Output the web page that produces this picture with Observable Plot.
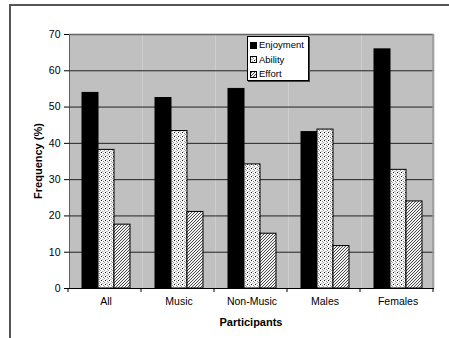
<!DOCTYPE html>
<html>
<head>
<meta charset="utf-8">
<script src="https://cdn.jsdelivr.net/npm/d3@7"></script>
<script src="https://cdn.jsdelivr.net/npm/@observablehq/plot@0.6"></script>
<style>
  body { margin: 0; background: #fff; }
  #wrap { position: relative; width: 449px; height: 338px; overflow: hidden; font-family: "Liberation Sans", Arial, sans-serif; }
  #border { position: absolute; left: 9px; top: 4px; width: 460px; height: 400px; border-left: 2px solid #555; border-top: 2px solid #555; box-sizing: border-box; }
  #chart { position: absolute; left: 0; top: 0; }
  .lbl { position: absolute; font-weight: bold; font-size: 11px; color: #000; white-space: nowrap; }
  #ylab { left: 38px; top: 161px; transform: translate(-50%, -50%) rotate(-90deg); }
  #xlab { left: 251px; top: 322px; transform: translate(-50%, -50%); }
  #legend { position: absolute; left: 247px; top: 36px; width: 62px; height: 45px; background: #fff; border: 1px solid #000; box-shadow: 1px 1px 0 #444; box-sizing: border-box; font-size: 9.5px; }
  #legend .item { position: absolute; left: 2px; height: 12px; line-height: 12px; display: flex; align-items: center; }
  #legend svg { margin-right: 2px; }
</style>
</head>
<body>
<svg width="0" height="0" style="position:absolute">
  <defs>
    <pattern id="dots" width="4" height="4" patternUnits="userSpaceOnUse">
      <rect width="4" height="4" fill="#fafafa"/>
      <rect x="0" y="0" width="1" height="1" fill="#111"/>
      <rect x="2" y="1" width="1" height="1" fill="#888"/>
      <rect x="1" y="3" width="1" height="1" fill="#bbb"/>
      <rect x="3" y="2" width="1" height="1" fill="#999"/>
      <rect x="2" y="3" width="1" height="1" fill="#ccc"/>
    </pattern>
    <pattern id="hatch" width="3" height="3" patternUnits="userSpaceOnUse">
      <rect width="3" height="3" fill="#f2f2f2"/>
      <path d="M-1,1 L1,-1 M0,3 L3,0 M2,4 L4,2" stroke="#333" stroke-width="0.9"/>
    </pattern>
  </defs>
</svg>
<div id="wrap">
  <div id="border"></div>
  <div id="chart"></div>
  <div class="lbl" id="ylab">Frequency (%)</div>
  <div class="lbl" id="xlab">Participants</div>
  <div id="legend"></div>
</div>
<script>
const categories = ["All", "Music", "Non-Music", "Males", "Females"];
const series = ["Enjoyment", "Ability", "Effort"];
const enjoyment = [53.9, 52.5, 55.0, 43.1, 65.9];
const ability = [38.2, 43.4, 34.2, 43.8, 32.7];
const effort = [17.6, 21.1, 15.1, 11.7, 24.0];
const yTicks = [0, 10, 20, 30, 40, 50, 60, 70];
const fills = ["#000", "url(#dots)", "url(#hatch)"];

const values = [enjoyment, ability, effort];
const table = [];
categories.forEach((c, i) => series.forEach((s, j) => table.push({category: c, series: s, value: values[j][i]})));

const chart = Plot.plot({
  width: 449,
  height: 338,
  marginLeft: 68,
  marginRight: 14,
  marginTop: 34,
  marginBottom: 50,
  style: {fontFamily: "'Liberation Sans', Arial, sans-serif", fontSize: "10.5px", background: "transparent", color: "#000"},
  facet: {data: table, x: "category"},
  fx: {domain: categories, padding: 0, axis: "bottom", label: null, tickSize: 0, tickPadding: 9},
  x: {domain: series, paddingInner: 0, paddingOuter: 0.78, axis: null},
  y: {domain: [0, 70], ticks: yTicks, label: null, line: true, tickSize: 5, tickPadding: 4},
  color: {domain: series, range: fills},
  marks: [
    Plot.frame({fill: "#c0c0c0", stroke: "none"}),
    Plot.ruleY(yTicks.slice(1, -1), {stroke: "#222", strokeWidth: 1}),
    Plot.ruleY([70], {stroke: "#666", strokeWidth: 1.5}),
    Plot.barY(table, {x: "series", y: "value", fill: "series", stroke: "#000", strokeWidth: 1}),
    Plot.ruleY([0], {stroke: "#000", strokeWidth: 1})
  ]
});
document.getElementById("chart").appendChild(chart);

// category boundary ticks and right border, from Plot's own scales
const fx = chart.scale("fx"), ys = chart.scale("y");
const svg = d3.select(chart);
const y0 = ys.apply(0), y70 = ys.apply(70);
const bounds = categories.map(c => fx.apply(c));
bounds.push(fx.apply(categories[categories.length - 1]) + fx.bandwidth);
const shift = 68 - bounds[0];
svg.append("g").selectAll("line").data(bounds).join("line")
  .attr("x1", d => d + shift).attr("x2", d => d + shift)
  .attr("y1", y0).attr("y2", y0 + 4).attr("stroke", "#000");
svg.append("line").attr("x1", bounds[bounds.length - 1] + shift).attr("x2", bounds[bounds.length - 1] + shift)
  .attr("y1", y70).attr("y2", y0).attr("stroke", "#999").attr("stroke-width", 1.5);

// legend
const legend = d3.select("#legend");
series.forEach((s, i) => {
  const item = legend.append("div").attr("class", "item").style("top", (2 + i * 14.5) + "px");
  const sw = item.append("svg").attr("width", 7).attr("height", 7);
  sw.append("rect").attr("x", 0.5).attr("y", 0.5).attr("width", 6).attr("height", 6)
    .attr("fill", fills[i]).attr("stroke", "#000");
  item.append("span").text(s);
});
</script>
</body>
</html>
